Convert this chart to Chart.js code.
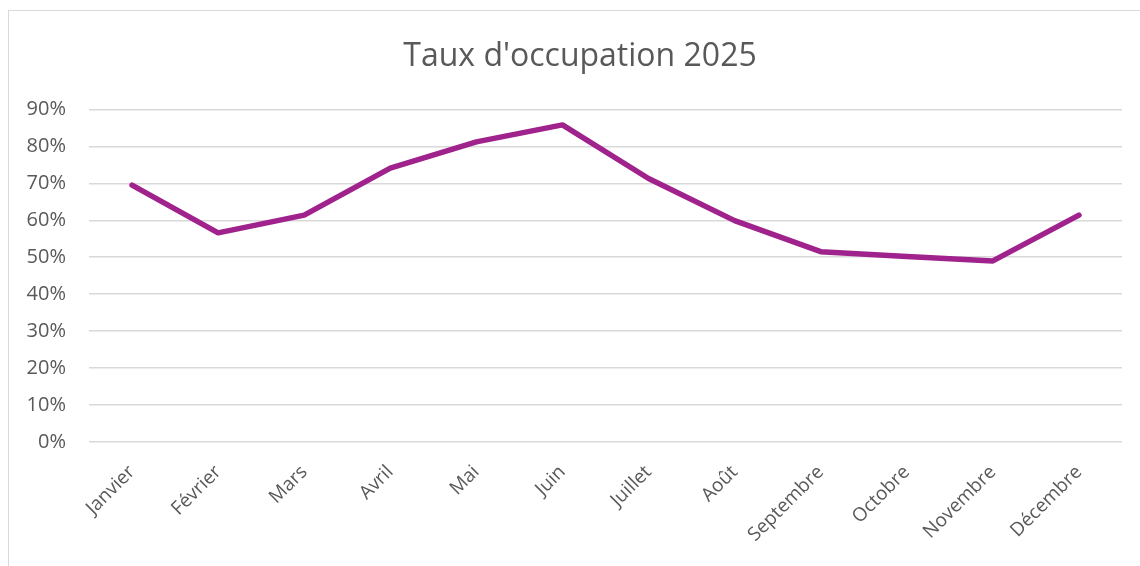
<!DOCTYPE html>
<html>
<head>
<meta charset="utf-8">
<script src="https://cdn.jsdelivr.net/npm/chart.js@4.4.1/dist/chart.umd.min.js"></script>
<style>
  html, body { margin: 0; padding: 0; background: #ffffff; overflow: hidden; }
  #frame { position: absolute; left: 8px; top: 10px; width: 1160px; height: 600px; border: 1px solid #d9d9d9; box-sizing: border-box; }
  #wrap { position: absolute; left: 0; top: 0; width: 1140px; height: 566px; }
</style>
</head>
<body>
<div id="frame"></div>
<div id="wrap"><canvas id="c" width="1140" height="566"></canvas></div>
<script>
const categories = ["Janvier", "Février", "Mars", "Avril", "Mai", "Juin", "Juillet", "Août", "Septembre", "Octobre", "Novembre", "Décembre"];
const occupation = [69.5, 56.6, 61.4, 74.1, 81.2, 85.8, 71.3, 59.9, 51.5, 50.2, 49.0, 61.4];
const yTicks = [0, 10, 20, 30, 40, 50, 60, 70, 80, 90];
const chartTitle = "Taux d'occupation 2025";

const FONT = "'Open Sans', 'DejaVu Sans', sans-serif";
const GREY = '#595959';

new Chart(document.getElementById('c'), {
  type: 'line',
  data: {
    labels: categories,
    datasets: [{
      label: chartTitle,
      data: occupation,
      borderColor: '#a0228c',
      backgroundColor: '#a0228c',
      borderWidth: 5.5,
      pointRadius: 0,
      tension: 0,
      borderJoinStyle: 'round',
      borderCapStyle: 'round'
    }]
  },
  options: {
    responsive: false,
    animation: false,
    devicePixelRatio: 1,
    layout: { padding: { left: 20, right: 0, top: 22, bottom: 0 } },
    plugins: {
      legend: { display: false },
      tooltip: { enabled: false },
      title: {
        display: true,
        text: chartTitle,
        color: GREY,
        font: { family: FONT, size: 32, weight: 'normal' },
        padding: { top: 16, bottom: 33 }
      }
    },
    scales: {
      x: {
        offset: true,
        grid: { display: false, drawTicks: false },
        border: { display: false },
        ticks: {
          color: GREY,
          font: { family: FONT, size: 19 },
          maxRotation: 45,
          minRotation: 45,
          padding: 19,
          autoSkip: false
        },
        afterFit: (s) => { s.height = 124; }
      },
      y: {
        min: 0,
        max: 90,
        afterBuildTicks: (s) => { s.ticks = yTicks.map(v => ({ value: v })); },
        grid: { color: '#d9d9d9', lineWidth: 1.5, drawTicks: false },
        border: { display: false },
        ticks: {
          color: GREY,
          font: { family: FONT, size: 20 },
          padding: 23,
          callback: (v) => v + '%'
        },
        afterFit: (s) => { s.width = 69; }
      },
      yRight: {
        position: 'right',
        display: true,
        grid: { display: false, drawTicks: false },
        border: { display: false },
        ticks: { display: false },
        afterFit: (s) => { s.width = 18; }
      }
    }
  }
});
</script>
</body>
</html>
